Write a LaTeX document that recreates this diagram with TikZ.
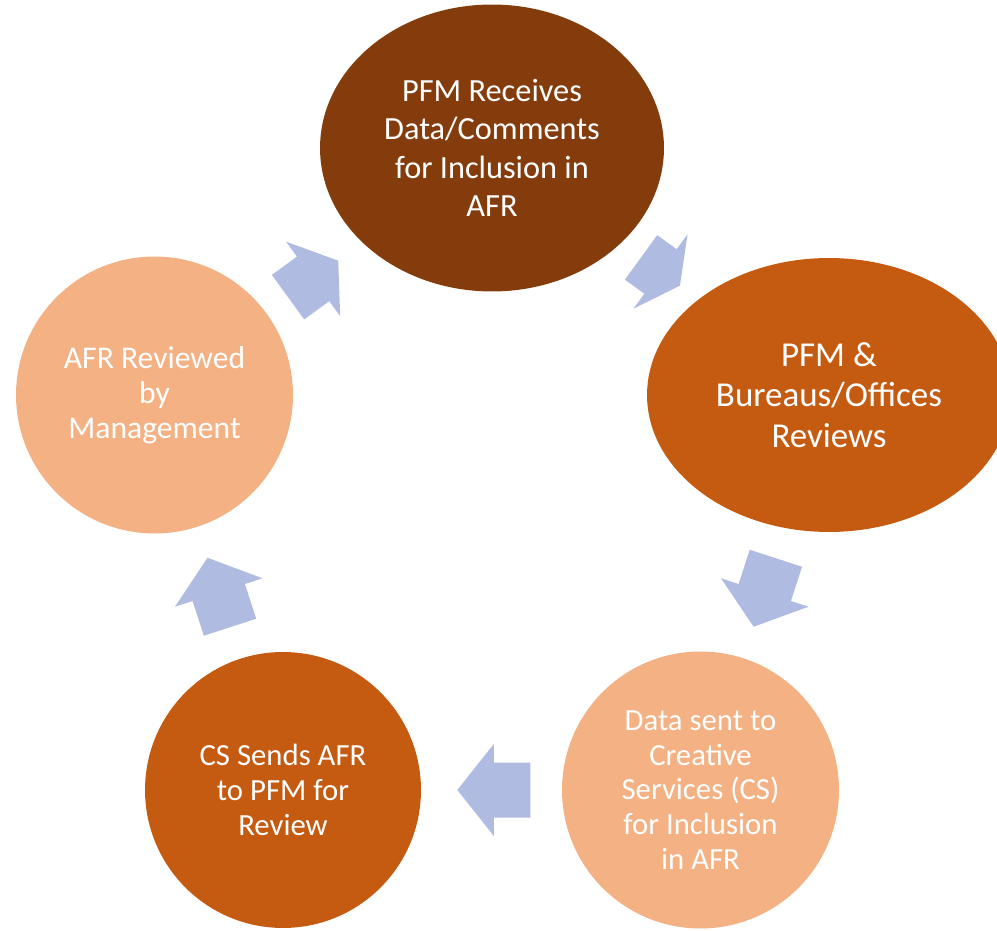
\documentclass[tikz,border=0pt]{standalone}
\usepackage{fontspec}
\setmainfont{Carlito}
\usetikzlibrary{shapes.geometric,calc}

\definecolor{afrdark}{HTML}{843C0C}
\definecolor{afrmid}{HTML}{C55A11}
\definecolor{afrlight}{HTML}{F4B183}
\definecolor{afrarrow}{RGB}{175,187,224}

\begin{document}
\begin{tikzpicture}[x=0.02cm,y=0.02cm,
  stage/.style={draw=none,inner sep=0pt,align=center,text=white,
    font=\fontsize{17.5}{19.8}\selectfont},
  pics/cyclearrow/.style={code={
    \fill[afrarrow] (-#1/2,-27.5) -- (0,-27.5) -- (0,-46) -- (#1/2,0)
      -- (0,46) -- (0,27.5) -- (-#1/2,27.5) -- cycle;}}]
\useasboundingbox (0,0) rectangle (997,930);
\clip (0,0) rectangle (997,930);
% Stages of the AFR cycle
\node[stage,ellipse,fill=afrdark,minimum width=6.88cm,minimum height=5.74cm,
  font=\fontsize{18.4}{21.8}\selectfont] (recv) at (492,782)
  {PFM Receives\\Data/Comments\\for Inclusion in\\AFR};
\node[stage,ellipse,fill=afrmid,minimum width=7.28cm,minimum height=5.48cm,
  font=\fontsize{19.9}{23.2}\selectfont] (review) at (829,535)
  {PFM \&\\Bureaus/Offices\\Reviews};
\node[stage,circle,fill=afrlight,minimum size=5.54cm] (sent) at (700.5,140)
  {Data sent to\\Creative\\Services (CS)\\for Inclusion\\in AFR};
\node[stage,circle,fill=afrmid,minimum size=5.52cm] (csrev) at (283,140)
  {CS Sends AFR\\to PFM for\\Review};
\node[stage,circle,fill=afrlight,minimum size=5.54cm,
  font=\fontsize{18}{19.8}\selectfont] (mgmt) at (154.5,535)
  {AFR Reviewed\\by\\Management};
% Arrows between stages
\pic[rotate=-36] at ($(recv)!0.5!(review)$) {cyclearrow=48};
\pic[rotate=-108] at ($(review)!0.5!(sent)$) {cyclearrow=72};
\pic[rotate=180] at ($(sent)!0.495!(csrev)$) {cyclearrow=73};
\pic[rotate=108] at ($(csrev)!0.5!(mgmt)$) {cyclearrow=73};
\pic[rotate=36] at ($(mgmt)!0.47!(recv)$) {cyclearrow=62};
\end{tikzpicture}
\end{document}
